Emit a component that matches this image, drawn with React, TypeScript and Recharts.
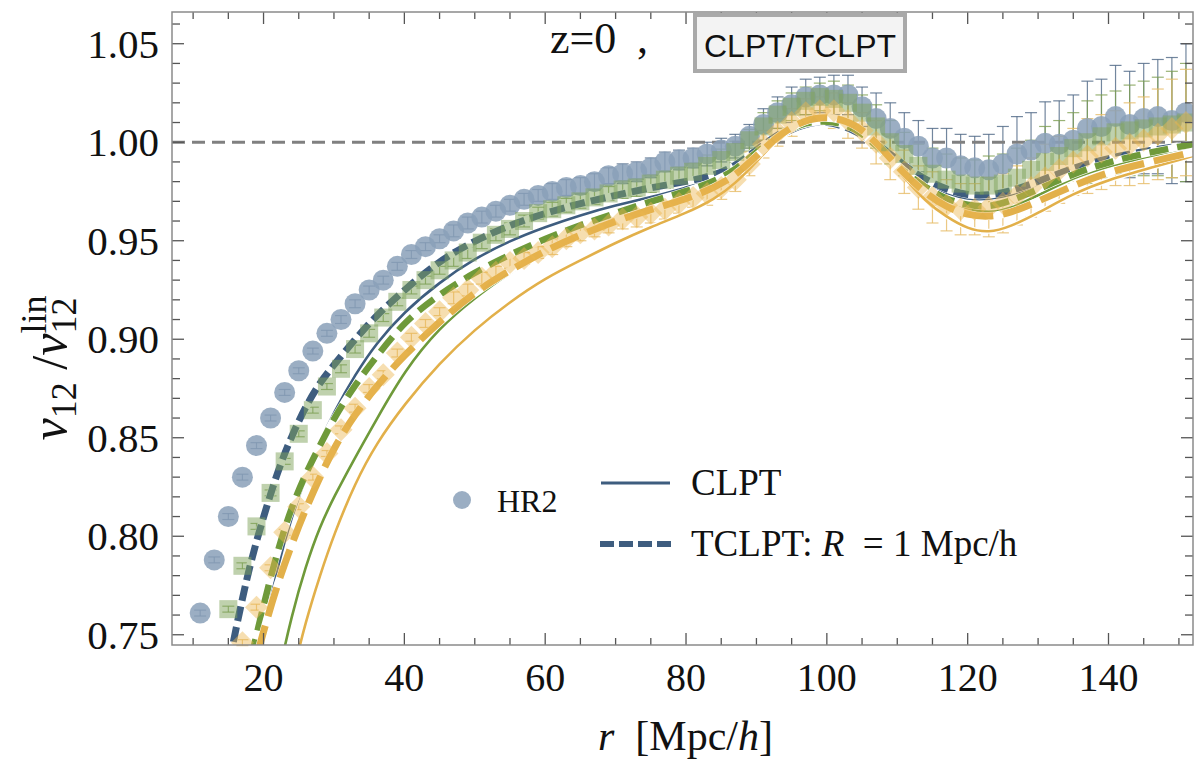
import React from 'react';
import { ComposedChart, Line, Scatter, XAxis, YAxis, ReferenceLine, ErrorBar } from 'recharts';

const W = 1195;
const H = 762;
const PLOT_L = 172;
const PLOT_R = 1193;
const PLOT_T = 12;
const PLOT_B = 645;
const SERIF = '"Liberation Serif", "Times New Roman", serif';
const SANS = '"Liberation Sans", Arial, sans-serif';

const xTicks = [10, 15, 20, 25, 30, 35, 40, 45, 50, 55, 60, 65, 70, 75, 80, 85, 90, 95, 100, 105, 110, 115, 120, 125, 130, 135, 140, 145, 150];
const yTicks = [0.75, 0.76, 0.77, 0.78, 0.79, 0.8, 0.81, 0.82, 0.83, 0.84, 0.85, 0.86, 0.87, 0.88, 0.89, 0.9, 0.91, 0.92, 0.93, 0.94, 0.95, 0.96, 0.97, 0.98, 0.99, 1.0, 1.01, 1.02, 1.03, 1.04, 1.05, 1.06];

// measured r bins (Mpc/h)
const binR = [11, 13, 15, 17, 19, 21, 23, 25, 27, 29, 31, 33, 35, 37, 39, 41, 43, 45, 47, 49, 51, 53, 55, 57, 59, 61, 63, 65, 67, 69, 71, 73, 75, 77, 79, 81, 83, 85, 87, 89, 91, 93, 95, 97, 99, 101, 103, 105, 107, 109, 111, 113, 115, 117, 119, 121, 123, 125, 127, 129, 131, 133, 135, 137, 139, 141, 143, 145, 147, 149, 151];

// HR2 (circles), from r = 11
const hr2 = [0.761, 0.788, 0.81, 0.83, 0.846, 0.86, 0.873, 0.884, 0.894, 0.903, 0.91, 0.918, 0.925, 0.93, 0.937, 0.943, 0.947, 0.951, 0.955, 0.959, 0.962, 0.965, 0.968, 0.971, 0.973, 0.975, 0.977, 0.978, 0.98, 0.983, 0.984, 0.985, 0.987, 0.99, 0.991, 0.992, 0.994, 0.996, 0.998, 1.003, 1.009, 1.015, 1.019, 1.023, 1.024, 1.024, 1.024, 1.018, 1.012, 1.007, 1.002, 0.998, 0.992, 0.992, 0.988, 0.987, 0.986, 0.989, 0.994, 0.996, 0.9995, 0.999, 1.001, 1.007, 1.008, 1.013, 1.009, 1.012, 1.013, 1.011, 1.015];
const hr2Err = [0.0015, 0.0015, 0.0015, 0.0015, 0.0015, 0.0015, 0.0015, 0.0015, 0.0015, 0.0015, 0.002, 0.002, 0.002, 0.002, 0.002, 0.002, 0.002, 0.002, 0.003, 0.003, 0.003, 0.003, 0.003, 0.003, 0.003, 0.004, 0.004, 0.004, 0.004, 0.004, 0.005, 0.005, 0.005, 0.005, 0.005, 0.005, 0.006, 0.006, 0.006, 0.006, 0.008, 0.008, 0.009, 0.009, 0.009, 0.01, 0.01, 0.01, 0.013, 0.013, 0.013, 0.013, 0.015, 0.015, 0.016, 0.016, 0.018, 0.019, 0.019, 0.019, 0.021, 0.022, 0.023, 0.024, 0.024, 0.026, 0.027, 0.028, 0.029, 0.032, 0.035];

// green squares, from r = 15
const green = [0.763, 0.785, 0.805, 0.822, 0.838, 0.852, 0.864, 0.876, 0.885, 0.895, 0.903, 0.911, 0.919, 0.925, 0.93, 0.935, 0.94, 0.944, 0.949, 0.953, 0.956, 0.96, 0.964, 0.966, 0.968, 0.97, 0.972, 0.974, 0.976, 0.977, 0.979, 0.981, 0.983, 0.985, 0.988, 0.991, 0.995, 1.001, 1.008, 1.014, 1.018, 1.021, 1.023, 1.022, 1.02, 1.015, 1.008, 1.0, 0.994, 0.988, 0.984, 0.981, 0.979, 0.978, 0.978, 0.979, 0.982, 0.986, 0.99, 0.993, 0.997, 1.0, 1.003, 1.005, 1.006, 1.007, 1.008, 1.009, 1.01];
const greenErr = [0.0015, 0.0015, 0.0015, 0.0015, 0.0015, 0.0015, 0.0015, 0.0015, 0.002, 0.002, 0.002, 0.002, 0.002, 0.002, 0.002, 0.002, 0.003, 0.003, 0.003, 0.003, 0.003, 0.003, 0.003, 0.0035, 0.0035, 0.0035, 0.0035, 0.0035, 0.0045, 0.0045, 0.0045, 0.0045, 0.0045, 0.0045, 0.0055, 0.0055, 0.0055, 0.0055, 0.007, 0.007, 0.007, 0.007, 0.007, 0.009, 0.009, 0.009, 0.011, 0.011, 0.011, 0.011, 0.013, 0.013, 0.013, 0.013, 0.015, 0.015, 0.015, 0.015, 0.018, 0.018, 0.018, 0.021, 0.021, 0.021, 0.023, 0.024, 0.025, 0.027, 0.03];

// orange diamonds, from r = 17
const orange = [0.746, 0.764, 0.784, 0.802, 0.815, 0.83, 0.842, 0.854, 0.865, 0.875, 0.882, 0.893, 0.901, 0.908, 0.914, 0.921, 0.925, 0.931, 0.934, 0.939, 0.941, 0.944, 0.947, 0.951, 0.954, 0.956, 0.958, 0.961, 0.962, 0.964, 0.966, 0.969, 0.972, 0.974, 0.977, 0.981, 0.989, 0.999, 1.005, 1.01, 1.015, 1.016, 1.016, 1.011, 1.006, 1.0, 0.992, 0.985, 0.977, 0.972, 0.968, 0.966, 0.966, 0.967, 0.969, 0.973, 0.977, 0.982, 0.986, 0.99, 0.993, 0.995, 0.997, 0.999, 1.001, 1.004, 1.007, 1.01];
const orangeErr = [0.0015, 0.0015, 0.0015, 0.0015, 0.0015, 0.0015, 0.0015, 0.002, 0.002, 0.002, 0.002, 0.002, 0.002, 0.002, 0.002, 0.003, 0.003, 0.003, 0.003, 0.003, 0.003, 0.003, 0.004, 0.004, 0.004, 0.004, 0.004, 0.005, 0.005, 0.005, 0.005, 0.005, 0.005, 0.006, 0.006, 0.006, 0.006, 0.007, 0.007, 0.007, 0.007, 0.007, 0.009, 0.009, 0.009, 0.011, 0.011, 0.011, 0.011, 0.013, 0.013, 0.013, 0.013, 0.015, 0.015, 0.015, 0.015, 0.017, 0.017, 0.017, 0.019, 0.019, 0.019, 0.021, 0.022, 0.023, 0.025, 0.027];

// theory curves
const rCurve = [14, 16, 18, 20, 22, 24, 26, 28, 30, 33, 36, 40, 45, 50, 55, 60, 65, 70, 75, 80, 84, 87, 90, 93, 96, 99, 102, 105, 108, 111, 114, 117, 120, 123, 126, 130, 135, 140, 146, 152];
const clptBlue = [0.62, 0.68, 0.725, 0.752, 0.785, 0.81, 0.83, 0.848, 0.863, 0.882, 0.898, 0.914, 0.929, 0.941, 0.95, 0.957, 0.963, 0.968, 0.972, 0.977, 0.981, 0.986, 0.994, 1.002, 1.007, 1.01, 1.008, 1.003, 0.995, 0.986, 0.979, 0.974, 0.971, 0.971, 0.973, 0.978, 0.985, 0.991, 0.995, 0.998];
const tclptBlue = [0.715, 0.752, 0.785, 0.81, 0.833, 0.851, 0.866, 0.878, 0.887, 0.9, 0.912, 0.925, 0.94, 0.95, 0.958, 0.964, 0.969, 0.973, 0.977, 0.98, 0.983, 0.988, 0.996, 1.004, 1.009, 1.011, 1.009, 1.004, 0.997, 0.988, 0.981, 0.976, 0.973, 0.973, 0.975, 0.98, 0.987, 0.992, 0.996, 0.999];
const clptGreen = [0.5, 0.58, 0.64, 0.69, 0.728, 0.76, 0.785, 0.805, 0.82, 0.84, 0.859, 0.884, 0.906, 0.921, 0.934, 0.944, 0.953, 0.959, 0.965, 0.97, 0.977, 0.984, 0.994, 1.004, 1.009, 1.012, 1.011, 1.006, 0.996, 0.986, 0.978, 0.971, 0.966, 0.964, 0.966, 0.973, 0.982, 0.988, 0.993, 0.998];
const tclptGreen = [0.64, 0.7, 0.735, 0.765, 0.793, 0.815, 0.832, 0.846, 0.86, 0.877, 0.891, 0.909, 0.923, 0.934, 0.943, 0.951, 0.958, 0.964, 0.97, 0.975, 0.98, 0.986, 0.995, 1.003, 1.009, 1.011, 1.01, 1.005, 0.995, 0.985, 0.977, 0.971, 0.968, 0.967, 0.97, 0.976, 0.984, 0.99, 0.995, 0.999];
const clptOrange = [0.45, 0.53, 0.6, 0.65, 0.69, 0.728, 0.757, 0.78, 0.801, 0.827, 0.847, 0.867, 0.888, 0.905, 0.919, 0.931, 0.94, 0.949, 0.957, 0.964, 0.971, 0.979, 0.99, 1.002, 1.009, 1.013, 1.012, 1.006, 0.995, 0.982, 0.97, 0.962, 0.956, 0.954, 0.957, 0.964, 0.974, 0.981, 0.987, 0.993];
const tclptOrange = [0.64, 0.69, 0.725, 0.752, 0.776, 0.796, 0.814, 0.83, 0.845, 0.862, 0.876, 0.892, 0.909, 0.924, 0.935, 0.945, 0.953, 0.96, 0.966, 0.971, 0.977, 0.983, 0.993, 1.003, 1.01, 1.013, 1.012, 1.007, 0.996, 0.984, 0.974, 0.967, 0.963, 0.962, 0.964, 0.97, 0.978, 0.985, 0.99, 0.995];

const BLUE = '#3e5d7f';
const GREEN = '#6f9a3a';
const ORANGE = '#e2b04a';

const curveRows = rCurve.map((r, i) => ({
  r,
  bS: clptBlue[i],
  bD: tclptBlue[i],
  gS: clptGreen[i],
  gD: tclptGreen[i],
  oS: clptOrange[i],
  oD: tclptOrange[i],
}));
const hr2Rows = binR.map((r, i) => ({ r, v: hr2[i], e: hr2Err[i] }));
const greenRows = binR.slice(2).map((r, i) => ({ r, v: green[i], e: greenErr[i] }));
const orangeRows = binR.slice(3).map((r, i) => ({ r, v: orange[i], e: orangeErr[i] }));

const XTick = (props: any) => {
  const { x, payload } = props;
  const v = payload.value;
  const major = v % 20 === 0;
  const len = major ? 12 : 7;
  return (
    <g>
      <line x1={x} x2={x} y1={PLOT_B} y2={PLOT_B - len} stroke="#555" strokeWidth={1.3} />
      <line x1={x} x2={x} y1={PLOT_T} y2={PLOT_T + len} stroke="#555" strokeWidth={1.3} />
      {major && (
        <text x={x} y={691} textAnchor="middle" fontFamily={SERIF} fontSize={40} fill="#111">
          {v}
        </text>
      )}
    </g>
  );
};

const YTick = (props: any) => {
  const { y, payload } = props;
  const v = payload.value;
  const major = Math.round(v * 100) % 5 === 0;
  const len = major ? 12 : 8;
  return (
    <g>
      <line x1={PLOT_L} x2={PLOT_L + len} y1={y} y2={y} stroke="#555" strokeWidth={1.3} />
      <line x1={PLOT_R} x2={PLOT_R - len} y1={y} y2={y} stroke="#555" strokeWidth={1.3} />
      {major && (
        <text x={159} y={y + 14} textAnchor="end" fontFamily={SERIF} fontSize={41} fill="#111">
          {v.toFixed(2)}
        </text>
      )}
    </g>
  );
};

const CircleMark = (p: any) => <circle cx={p.cx} cy={p.cy} r={10.5} fill="#8aa0b9" fillOpacity={0.85} />;
const SquareMark = (p: any) => (
  <rect x={p.cx - 9} y={p.cy - 9} width={18} height={18} fill="#80a45c" fillOpacity={0.5} />
);
const DiamondMark = (p: any) => (
  <polygon
    points={`${p.cx},${p.cy - 11.5} ${p.cx + 11.5},${p.cy} ${p.cx},${p.cy + 11.5} ${p.cx - 11.5},${p.cy}`}
    fill="#ebb550"
    fillOpacity={0.45}
  />
);

function curve(key: string, color: string, width: number, dash?: string) {
  return [
    <Line
      key={key + '-halo'}
      dataKey={key}
      type="basis"
      stroke="#fff"
      strokeWidth={dash ? width + 1 : width + 2.5}
      dot={false}
      activeDot={false}
      isAnimationActive={false}
    />,
    <Line
      key={key}
      dataKey={key}
      type="basis"
      stroke={color}
      strokeWidth={width}
      strokeDasharray={dash}
      dot={false}
      activeDot={false}
      isAnimationActive={false}
    />,
  ];
}

export default function App() {
  return (
    <div style={{ position: 'absolute', left: 0, top: 0, width: W, height: H, background: '#fff' }}>
      <ComposedChart width={W} height={H} data={curveRows} margin={{ top: PLOT_T, right: W - PLOT_R, bottom: 0, left: 0 }}>
        <XAxis
          dataKey="r"
          type="number"
          domain={[7, 152]}
          allowDataOverflow
          ticks={xTicks}
          interval={0}
          tick={<XTick />}
          tickLine={false}
          axisLine={false}
          height={H - PLOT_B}
        />
        <YAxis
          type="number"
          domain={[0.7448, 1.0661]}
          allowDataOverflow
          ticks={yTicks}
          interval={0}
          tick={<YTick />}
          tickLine={false}
          axisLine={false}
          width={PLOT_L}
        />
        <Scatter data={hr2Rows} dataKey="v" shape={<CircleMark />} isAnimationActive={false}>
          <ErrorBar dataKey="e" direction="y" width={6} stroke="#4f6886" strokeWidth={1.2} strokeOpacity={0.8} />
        </Scatter>
        <Scatter data={greenRows} dataKey="v" shape={<SquareMark />} isAnimationActive={false}>
          <ErrorBar dataKey="e" direction="y" width={6} stroke="#7e9f52" strokeWidth={1.2} strokeOpacity={0.8} />
        </Scatter>
        <Scatter data={orangeRows} dataKey="v" shape={<DiamondMark />} isAnimationActive={false}>
          <ErrorBar dataKey="e" direction="y" width={6} stroke="#e6bb66" strokeWidth={1.2} strokeOpacity={0.8} />
        </Scatter>
        <ReferenceLine y={1} stroke="#808080" strokeWidth={3} strokeDasharray="13 7" />
        {curve('bS', BLUE, 2.6)}
        {curve('bD', BLUE, 7, '15 6')}
        {curve('gS', GREEN, 2.6)}
        {curve('gD', GREEN, 6.5, '19 9')}
        {curve('oS', ORANGE, 2.6)}
        {curve('oD', ORANGE, 7, '30 10')}
      </ComposedChart>

      <svg width={W} height={H} style={{ position: 'absolute', left: 0, top: 0, pointerEvents: 'none' }}>
        <rect x={PLOT_L} y={PLOT_T} width={PLOT_R - PLOT_L} height={PLOT_B - PLOT_T} fill="none" stroke="#8a8a8a" strokeWidth={1.5} />

        <text x={550} y={53} fontFamily={SERIF} fontSize={44} fill="#111">z=0</text>
        <text x={637} y={53} fontFamily={SERIF} fontSize={44} fill="#111">,</text>

        <rect x={695} y={15} width={210} height={56} fill="#f3f3f3" stroke="#a9a9a9" strokeWidth={4} />
        <text x={800} y={57} textAnchor="middle" fontFamily={SANS} fontSize={32} fill="#111">CLPT/TCLPT</text>

        <circle cx={462} cy={500} r={9} fill="#8aa0b9" fillOpacity={0.85} />
        <text x={497} y={512} fontFamily={SERIF} fontSize={32} fill="#111">HR2</text>
        <line x1={601} x2={670} y1={483} y2={483} stroke={BLUE} strokeWidth={3} />
        <text x={691} y={495} fontFamily={SERIF} fontSize={37} fill="#111">CLPT</text>
        <line x1={600} x2={672} y1={544} y2={544} stroke={BLUE} strokeWidth={6} strokeDasharray="14 5" />
        <text x={691} y={556} fontFamily={SERIF} fontSize={37} fill="#111">
          TCLPT:{'\u00a0'}<tspan fontStyle="italic">R</tspan>{'\u00a0\u00a0'}={'\u00a0'}1 Mpc/h
        </text>

        <text x={598} y={750} fontFamily={SERIF} fontSize={42} fill="#111">
          <tspan fontStyle="italic">r</tspan>{'\u00a0\u00a0'}[Mpc/<tspan fontStyle="italic">h</tspan>]
        </text>

        <text transform="translate(66,368) rotate(-90)" textAnchor="middle" fontFamily={SERIF} fontSize={50} fill="#111">
          <tspan fontStyle="italic">v</tspan>
          <tspan fontSize={36} dy={10}>12</tspan>
          <tspan dy={-10}>{'\u00a0'}/</tspan>
          <tspan fontStyle="italic">v</tspan>
          <tspan fontSize={36} dy={10}>12</tspan>
          <tspan fontSize={36} dx={-36} dy={-30}>lin</tspan>
        </text>
      </svg>
    </div>
  );
}
